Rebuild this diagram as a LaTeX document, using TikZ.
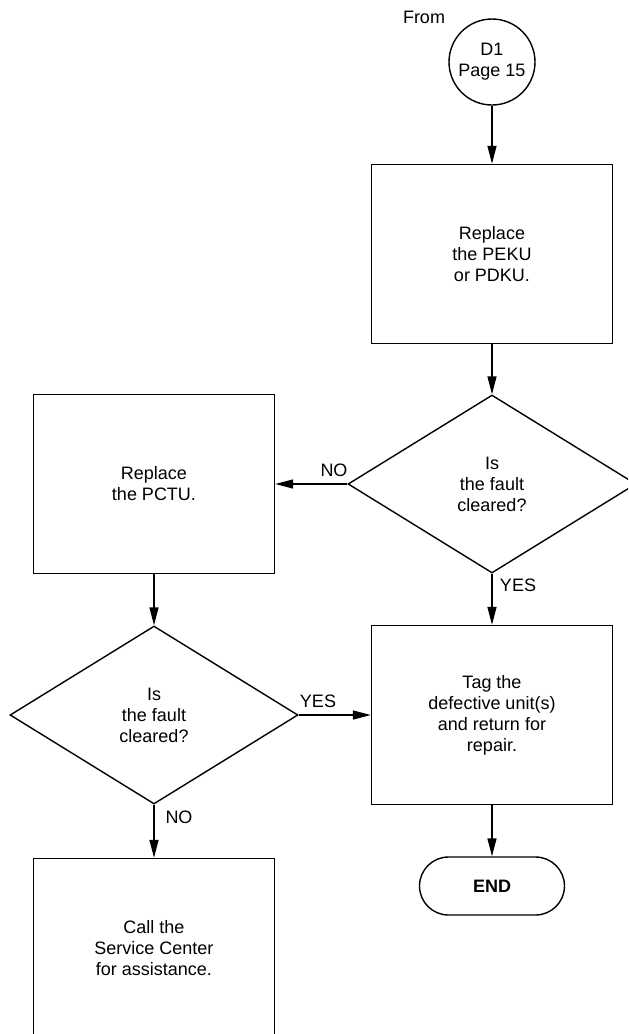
\documentclass[tikz,border=0pt]{standalone}
\usepackage{fontspec}
\setmainfont{Liberation Sans}
\usetikzlibrary{shapes.geometric,arrows.meta}

\begin{document}
\begin{tikzpicture}[x=0.5pt, y=-0.5pt, >={Triangle[length=9pt, width=4.5pt]}, line width=0.7pt,
		every node/.style={font=\fontsize{9}{10.5}\selectfont, align=center, inner sep=0pt},
		box/.style={draw, rectangle, minimum width=120.5pt, minimum height=89.5pt},
		ask/.style={draw, diamond, minimum width=144pt, minimum height=89pt},
		link/.style={draw, circle, minimum size=43pt},
		stop/.style={draw, rectangle, rounded corners=14.5pt, minimum width=72.5pt, minimum height=29pt, font=\fontsize{9}{10.5}\selectfont\bfseries}]
	% page frame (right diamond and last box run off the page)
	\clip (0,0) rectangle (628,1034);
	
	% right column
	\node (from) at (424,17) {From};
	\node[link] (d1) at (492,62) {D1\\Page 15};
	\node[box] (peku) at (492,254) {Replace\\the PEKU\\or PDKU.};
	\node[ask] (q1) at (492,484) {Is\\the fault\\cleared?};
	\node[box] (tag) at (492,715) {Tag the\\defective unit(s)\\and return for\\repair.};
	\node[stop] (end) at (492,886) {END};
	
	% left column
	\node[box] (pctu) at (154,484) {Replace\\the PCTU.};
	\node[ask] (q2) at (154,715) {Is\\the fault\\cleared?};
	\node[box] (call) at (154,948) {Call the\\Service Center\\for assistance.};
	
	% answers
	\node (no1) at (334,470) {NO};
	\node (yes1) at (518,585) {YES};
	\node (yes2) at (318,701) {YES};
	\node (no2) at (179,817) {NO};
	
	% connectors
	\draw[->] (d1) -- (peku);
	\draw[->] (peku) -- (q1);
	\draw[->] (q1.west) -- (pctu.east);
	\draw[->] (q1.south) -- (tag.north);
	\draw[->] (tag) -- (end);
	\draw[->] (pctu) -- (q2);
	\draw[->] (q2.east) -- (tag.west);
	\draw[->] (q2.south) -- (call.north);
\end{tikzpicture}
\end{document}
